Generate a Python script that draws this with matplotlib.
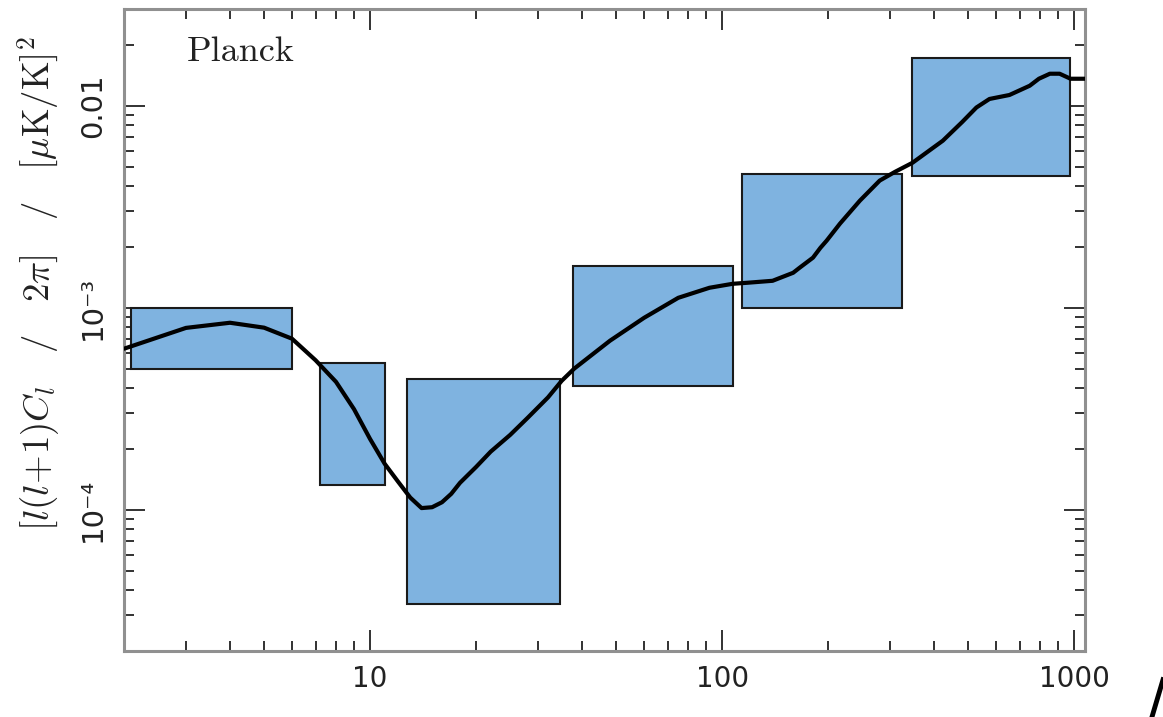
import numpy as np
import matplotlib
matplotlib.use("Agg")
import matplotlib.pyplot as plt
from matplotlib.patches import Rectangle
from matplotlib.lines import Line2D
from matplotlib.ticker import FixedLocator, LogLocator, NullFormatter

plt.rcParams['mathtext.fontset'] = 'cm'

# band power boxes: l range and power range
box_lmin = [2.1, 7.2, 12.7, 37.8, 114, 345]
box_lmax = [6.0, 11.0, 34.7, 107, 324, 975]
box_lo = [5.0e-4, 1.33e-4, 3.4e-5, 4.1e-4, 1.0e-3, 4.5e-3]
box_hi = [1.0e-3, 5.35e-4, 4.46e-4, 1.61e-3, 4.6e-3, 1.73e-2]

# model curve
ell = [2, 3, 4, 5, 6, 7, 8, 9, 10, 11, 12, 13, 14, 15, 16, 17, 18, 20, 22,
       25, 28, 32, 35, 38, 48, 60, 75, 92, 107, 118, 139, 159, 166, 181, 190,
       198, 216, 246, 280, 309, 347, 423, 480, 527, 574, 654, 747, 793, 852,
       908, 975, 1075]
cl = [6.27e-4, 7.95e-4, 8.43e-4, 7.97e-4, 7.03e-4, 5.5e-4, 4.3e-4, 3.15e-4,
      2.24e-4, 1.69e-4, 1.38e-4, 1.15e-4, 1.02e-4, 1.03e-4, 1.09e-4, 1.2e-4,
      1.36e-4, 1.63e-4, 1.94e-4, 2.35e-4, 2.85e-4, 3.6e-4, 4.35e-4, 5.0e-4,
      6.87e-4, 8.92e-4, 1.12e-3, 1.256e-3, 1.314e-3, 1.33e-3, 1.36e-3,
      1.49e-3, 1.58e-3, 1.77e-3, 1.98e-3, 2.15e-3, 2.61e-3, 3.39e-3, 4.26e-3,
      4.7e-3, 5.22e-3, 6.71e-3, 8.3e-3, 9.8e-3, 1.08e-2, 1.13e-2, 1.256e-2,
      1.36e-2, 1.44e-2, 1.44e-2, 1.36e-2, 1.36e-2]

y_ticks = [1e-4, 1e-3, 1e-2]
y_ticklabels = ['10\u207b\u2074', '10\u207b\u00b3', '0.01']

fig = plt.figure(figsize=(11.63, 7.17), dpi=100)
ax = fig.add_axes([0.1066, 0.092, 0.8267, 0.895])

for l0, l1, lo, hi in zip(box_lmin, box_lmax, box_lo, box_hi):
    ax.add_patch(Rectangle((l0, lo), l1 - l0, hi - lo, facecolor='#7fb3e0',
                           edgecolor='#1a1a1a', linewidth=1.5, zorder=2))

ax.plot(ell, cl, color='black', linewidth=3, zorder=3,
        solid_capstyle='round', solid_joinstyle='round')

ax.set_xscale('log')
ax.set_yscale('log')
ax.set_xlim(2, 1075)
ax.set_ylim(2e-5, 3e-2)

ax.xaxis.set_major_locator(FixedLocator([10, 100, 1000]))
ax.set_xticklabels(['10', '100', '1000'], fontsize=20)
ax.xaxis.set_minor_locator(LogLocator(base=10, subs=np.arange(2, 10)))
ax.xaxis.set_minor_formatter(NullFormatter())
ax.yaxis.set_major_locator(FixedLocator(y_ticks))
ax.set_yticklabels(y_ticklabels, rotation=90, va='center', fontsize=21)
ax.yaxis.set_minor_locator(LogLocator(base=10, subs=np.arange(2, 10)))
ax.yaxis.set_minor_formatter(NullFormatter())

ax.tick_params(which='both', direction='in', top=True, right=True,
               colors='#222222')
ax.tick_params(which='major', length=15, width=1.3, pad=10)
ax.tick_params(which='minor', length=7, width=1.3)
ax.tick_params(axis='y', which='major', pad=12)
for sp in ax.spines.values():
    sp.set_color('#909090')
    sp.set_linewidth(2.2)

ax.set_ylabel(r'$[l(l\!+\!1)C_l\ \ \ /\ \ \ 2\pi]\ \ \ /\ \ \ [\mu{\rm K/K}]^2$',
              fontsize=26.5, color='#222222')
ax.yaxis.set_label_coords(-0.064, 0.572)
ax.text(0.065, 0.92, 'Planck', transform=ax.transAxes, fontsize=26,
        fontfamily='cmr10', color='#222222')

fig.add_artist(Line2D([0.9905, 1.0], [0.0, 0.052], transform=fig.transFigure,
                      color='black', linewidth=3.5))

fig.savefig('out.png', dpi=100)
